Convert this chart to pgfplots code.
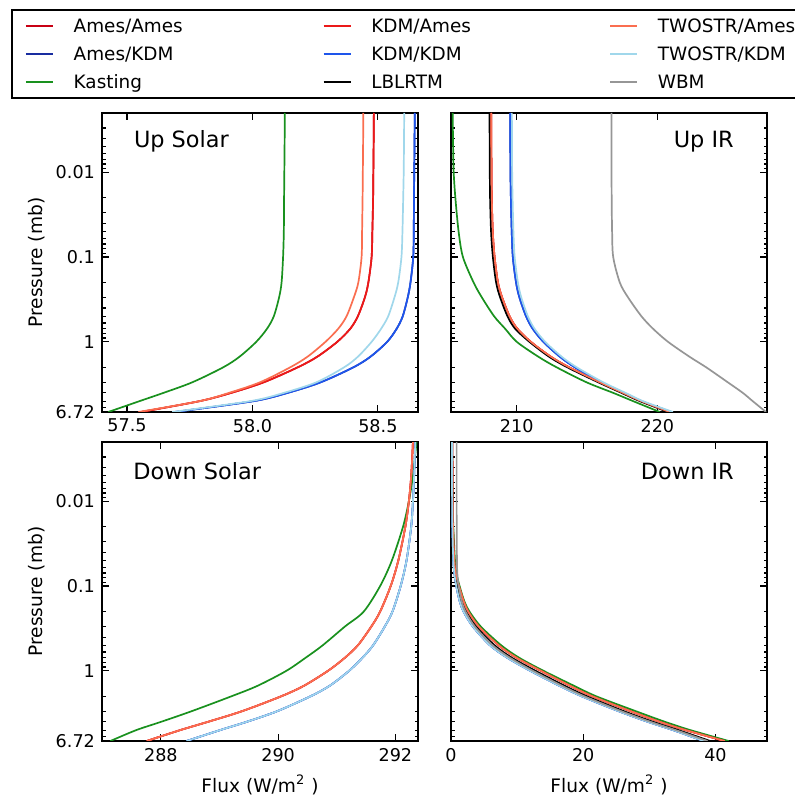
\documentclass[border=0pt]{standalone}
\usepackage{fontspec}
\setmainfont{DejaVu Sans}
\usepackage{pgfplots}
\usepackage{pgfplotstable}
\pgfplotsset{compat=1.18}

\definecolor{amesames}{RGB}{200,0,20}
\definecolor{kdmames}{RGB}{235,25,25}
\definecolor{twostrames}{RGB}{250,110,80}
\definecolor{ameskdm}{RGB}{25,45,160}
\definecolor{kdmkdm}{RGB}{30,85,235}
\definecolor{twostrkdm}{RGB}{160,215,235}
\definecolor{kasting}{RGB}{25,145,30}
\definecolor{wbm}{RGB}{150,150,150}

\pgfplotstableread{
p     AA      AK      Kas     TA      TK
0.002  58.484  58.647  58.129  58.442  58.605
0.005  58.483  58.646  58.128  58.441  58.604
0.01   58.482  58.645  58.127  58.440  58.603
0.02   58.481  58.644  58.126  58.439  58.601
0.05   58.478  58.643  58.125  58.437  58.598
0.1    58.475  58.641  58.122  58.435  58.594
0.2    58.462  58.630  58.116  58.422  58.581
0.3    58.448  58.619  58.106  58.404  58.566
0.5    58.420  58.599  58.085  58.375  58.541
0.7    58.390  58.575  58.058  58.342  58.513
1      58.338  58.537  58.015  58.291  58.475
1.5    58.258  58.470  57.948  58.219  58.420
2      58.180  58.402  57.883  58.150  58.365
3      58.045  58.272  57.760  58.030  58.255
4      57.915  58.140  57.645  57.906  58.125
5      57.790  58.005  57.550  57.790  57.992
6.72   57.555  57.690  57.425  57.545  57.680
}\upsolar

\pgfplotstableread{
p     AA      AK      Kas     LBL     TA      TK      WBM
0.002 208.18 209.53 205.44 208.06 208.18 209.65 216.74
0.005 208.19 209.54 205.47 208.07 208.19 209.66 216.74
0.01  208.20 209.55 205.51 208.08 208.20 209.67 216.74
0.02  208.22 209.58 205.63 208.10 208.22 209.70 216.75
0.05  208.29 209.64 205.86 208.17 208.29 209.76 216.78
0.1   208.42 209.72 206.17 208.30 208.42 209.85 216.86
0.2   208.66 209.95 206.93 208.53 208.66 210.08 217.33
0.3   208.96 210.19 207.52 208.82 208.96 210.32 217.92
0.5   209.49 210.66 208.39 209.34 209.49 210.79 218.87
0.7   210.04 211.13 209.17 209.88 210.04 211.26 219.69
1     211.00 211.89 210.00 210.90 211.00 212.02 220.76
1.5   212.43 213.07 211.54 212.30 212.43 213.20 222.29
2     213.73 214.14 212.84 213.60 213.73 214.27 223.48
3     215.90 216.03 214.96 215.79 215.90 216.15 225.01
4     217.55 217.62 216.86 217.45 217.55 217.74 226.08
5     218.85 218.85 218.27 218.75 218.85 218.97 226.78
6.72  220.87 221.00 220.17 220.76 220.87 221.11 227.73
}\upir

\pgfplotstableread{
p     A       K       Kas
0.002 292.30 292.34 292.36
0.005 292.27 292.32 292.30
0.01  292.23 292.30 292.23
0.02  292.17 292.27 292.13
0.05  292.05 292.19 291.94
0.1   291.92 292.09 291.74
0.2   291.74 291.95 291.46
0.3   291.59 291.82 291.14
0.5   291.36 291.62 290.76
0.7   291.14 291.44 290.47
1     290.85 291.21 290.14
1.5   290.44 290.88 289.65
2     290.05 290.55 289.20
3     289.38 289.98 288.52
4     288.80 289.46 288.00
5     288.33 289.01 287.58
6.72  287.76 288.44 287.14
}\downsolar

\pgfplotstableread{
p     A     K     Kas   LBL   WBM
0.002 0.20 0.15 0.15 0.20 0.85
0.005 0.22 0.15 0.20 0.20 0.85
0.01  0.25 0.17 0.25 0.22 0.85
0.02  0.30 0.20 0.35 0.27 0.86
0.05  0.50 0.35 0.60 0.45 0.90
0.07  0.70 0.50 0.80 0.60 0.95
0.1   1.20 0.80 1.30 1.00 1.15
0.15  1.90 1.30 2.00 1.60 1.60
0.2   2.60 1.90 2.80 2.30 2.20
0.3   4.20 3.30 4.50 3.80 3.60
0.5   7.20 5.90 7.60 6.60 6.30
0.7   9.90 8.50 10.30 9.20 8.90
1     13.6 12.0 14.0 12.8 12.4
1.5   18.0 16.4 18.6 17.2 16.8
2     21.4 19.8 22.0 20.6 20.2
3     27.2 25.4 28.0 26.2 25.8
4     31.6 29.8 32.4 30.6 30.2
5     35.5 33.6 36.2 34.4 34.0
6.72  41.4 38.2 42.0 39.2 38.8
}\downir

\pgfplotsset{
  every axis/.append style={
    scale only axis, width=158pt, height=149.5pt,
    xtick pos=both, ytick pos=both,
    tick align=inside,
    major tick length=3.5pt, minor tick length=1.75pt,
    axis line style={line width=0.9pt},
    tick label style={font=\fontsize{8.8}{10}\selectfont},
    label style={font=\fontsize{9.3}{11}\selectfont},
  },
  every tick/.append style={black, line width=0.6pt},
  every axis plot/.append style={line width=0.85pt},
}
\tikzset{ttl/.style={inner sep=0pt, font=\fontsize{11.2}{13}\selectfont}}

\begin{document}
\begin{tikzpicture}
\useasboundingbox (0,0) rectangle (397pt,-398pt);

% Up Solar
\begin{axis}[at={(51pt,-56.5pt)}, anchor=north west,
  ymode=log, y dir=reverse, ymin=0.002, ymax=6.72,
  ytick={0.01,0.1,1,6.72},
  minor ytick={0.002,0.003,0.004,0.005,0.006,0.007,0.008,0.009,0.02,0.03,0.04,0.05,0.06,0.07,0.08,0.09,0.2,0.3,0.4,0.5,0.6,0.7,0.8,0.9,2,3,4,5,6},
  xmin=57.40, xmax=58.66, xtick={57.5,58.0,58.5}, xticklabels={57.5,58.0,58.5},
  yticklabels={0.01,0.1,1,6.72},
  ylabel={Pressure (mb)},
  ylabel style={at={(axis description cs:-0.2057,0.5)}, anchor=center}]
\addplot[amesames, smooth] table[x=AA,y=p]{\upsolar};
\addplot[ameskdm, smooth] table[x=AK,y=p]{\upsolar};
\addplot[kasting, smooth] table[x=Kas,y=p]{\upsolar};
\addplot[kdmames, smooth] table[x=AA,y=p]{\upsolar};
\addplot[kdmkdm, smooth] table[x=AK,y=p]{\upsolar};
\addplot[twostrames, smooth] table[x=TA,y=p]{\upsolar};
\addplot[twostrkdm, smooth] table[x=TK,y=p]{\upsolar};
\node[ttl, anchor=base west] at (rel axis cs:0.100,0.883) {Up Solar};
\end{axis}

% Up IR
\begin{axis}[at={(225.5pt,-56.5pt)}, anchor=north west,
  ymode=log, y dir=reverse, ymin=0.002, ymax=6.72,
  ytick={0.01,0.1,1,6.72},
  minor ytick={0.002,0.003,0.004,0.005,0.006,0.007,0.008,0.009,0.02,0.03,0.04,0.05,0.06,0.07,0.08,0.09,0.2,0.3,0.4,0.5,0.6,0.7,0.8,0.9,2,3,4,5,6},
  xmin=205.32, xmax=227.8, xtick={210,220}, xticklabels={210,220},
  yticklabels={},
  legend columns=3,
  legend style={at={(axis description cs:-1.3912,1.3478)}, anchor=north west,
    draw=black, line width=0.75pt, inner xsep=6.5pt, inner ysep=1.1pt,
    column sep=0pt, row sep=0pt, font=\fontsize{9.2}{11}\selectfont,
    nodes={inner sep=0pt, text height=10.3pt, text depth=3.7pt}},
  legend image code/.code={\draw[#1, line width=0.8pt] (0pt,0pt) -- (13.5pt,0pt);}]
\addlegendimage{amesames}\addlegendentry{\makebox[134.5pt][l]{\hspace{10pt}Ames/Ames}}
\addlegendimage{kdmames}\addlegendentry{\makebox[129pt][l]{\hspace{10pt}KDM/Ames}}
\addlegendimage{twostrames}\addlegendentry{\makebox[85pt][l]{\hspace{10pt}TWOSTR/Ames}}
\addlegendimage{ameskdm}\addlegendentry{\makebox[134.5pt][l]{\hspace{10pt}Ames/KDM}}
\addlegendimage{kdmkdm}\addlegendentry{\makebox[129pt][l]{\hspace{10pt}KDM/KDM}}
\addlegendimage{twostrkdm}\addlegendentry{\makebox[85pt][l]{\hspace{10pt}TWOSTR/KDM}}
\addlegendimage{kasting}\addlegendentry{\makebox[134.5pt][l]{\hspace{10pt}Kasting}}
\addlegendimage{black}\addlegendentry{\makebox[129pt][l]{\hspace{10pt}LBLRTM}}
\addlegendimage{wbm}\addlegendentry{\makebox[85pt][l]{\hspace{10pt}WBM}}
\addplot[amesames, smooth, forget plot] table[x=AA,y=p]{\upir};
\addplot[ameskdm, smooth, forget plot] table[x=AK,y=p]{\upir};
\addplot[kasting, smooth, forget plot] table[x=Kas,y=p]{\upir};
\addplot[kdmames, smooth, forget plot] table[x=AA,y=p]{\upir};
\addplot[kdmkdm, smooth, forget plot] table[x=AK,y=p]{\upir};
\addplot[black, smooth, forget plot] table[x=LBL,y=p]{\upir};
\addplot[twostrames, smooth, forget plot] table[x=TA,y=p]{\upir};
\addplot[twostrkdm, smooth, forget plot] table[x=TK,y=p]{\upir};
\addplot[wbm, smooth, forget plot] table[x=WBM,y=p]{\upir};
\node[ttl, anchor=base east] at (rel axis cs:0.896,0.883) {Up IR};
\end{axis}

% Down Solar
\begin{axis}[at={(51pt,-221pt)}, anchor=north west,
  ymode=log, y dir=reverse, ymin=0.002, ymax=6.72,
  ytick={0.01,0.1,1,6.72},
  minor ytick={0.002,0.003,0.004,0.005,0.006,0.007,0.008,0.009,0.02,0.03,0.04,0.05,0.06,0.07,0.08,0.09,0.2,0.3,0.4,0.5,0.6,0.7,0.8,0.9,2,3,4,5,6},
  xmin=286.996, xmax=292.386, xtick={288,290,292}, xticklabels={288,290,292},
  yticklabels={0.01,0.1,1,6.72},
  ylabel={Pressure (mb)},
  ylabel style={at={(axis description cs:-0.2057,0.5)}, anchor=center},
  xlabel={Flux (W/m\textsuperscript{2}\ )},
  xlabel style={at={(axis description cs:0.5,-0.147)}, anchor=center}]
\addplot[amesames, smooth] table[x=A,y=p]{\downsolar};
\addplot[ameskdm, smooth] table[x=K,y=p]{\downsolar};
\addplot[kasting, smooth] table[x=Kas,y=p]{\downsolar};
\addplot[kdmames, smooth] table[x=A,y=p]{\downsolar};
\addplot[kdmkdm, smooth] table[x=K,y=p]{\downsolar};
\addplot[twostrames, smooth] table[x=A,y=p]{\downsolar};
\addplot[twostrkdm, smooth] table[x=K,y=p]{\downsolar};
\node[ttl, anchor=base west] at (rel axis cs:0.098,0.873) {Down Solar};
\end{axis}

% Down IR
\begin{axis}[at={(225.5pt,-221pt)}, anchor=north west,
  ymode=log, y dir=reverse, ymin=0.002, ymax=6.72,
  ytick={0.01,0.1,1,6.72},
  minor ytick={0.002,0.003,0.004,0.005,0.006,0.007,0.008,0.009,0.02,0.03,0.04,0.05,0.06,0.07,0.08,0.09,0.2,0.3,0.4,0.5,0.6,0.7,0.8,0.9,2,3,4,5,6},
  xmin=0, xmax=47.8, xtick={0,20,40}, xticklabels={0,20,40},
  yticklabels={},
  xlabel={Flux (W/m\textsuperscript{2}\ )},
  xlabel style={at={(axis description cs:0.5,-0.147)}, anchor=center}]
\addplot[amesames, smooth] table[x=A,y=p]{\downir};
\addplot[ameskdm, smooth] table[x=K,y=p]{\downir};
\addplot[kasting, smooth] table[x=Kas,y=p]{\downir};
\addplot[kdmames, smooth] table[x=A,y=p]{\downir};
\addplot[kdmkdm, smooth] table[x=K,y=p]{\downir};
\addplot[black, smooth] table[x=LBL,y=p]{\downir};
\addplot[twostrames, smooth] table[x=A,y=p]{\downir};
\addplot[twostrkdm, smooth] table[x=K,y=p]{\downir};
\addplot[wbm, smooth] table[x=WBM,y=p]{\downir};
\node[ttl, anchor=base east] at (rel axis cs:0.896,0.873) {Down IR};
\end{axis}
\end{tikzpicture}
\end{document}
